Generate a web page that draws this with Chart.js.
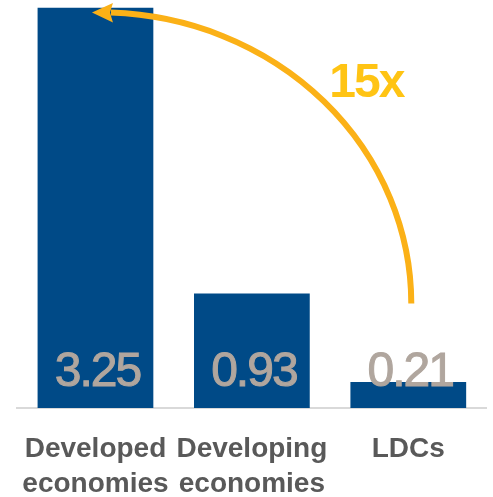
<!DOCTYPE html>
<html>
<head>
<meta charset="utf-8">
<script src="https://cdn.jsdelivr.net/npm/chart.js@4.4.1/dist/chart.umd.min.js"></script>
<style>
  html, body { margin: 0; padding: 0; background: #ffffff; }
  #wrap { width: 493px; height: 497px; position: relative; }
</style>
</head>
<body>
<div id="wrap"><canvas id="c" width="493" height="497"></canvas></div>
<script>
const categories = [['Developed', 'economies'], ['Developing', 'economies'], ['LDCs']];
const values = [3.25, 0.93, 0.21];
const valueLabels = ['3.25', '0.93', '0.21'];
const multipleLabel = '15x';

const FONT = '"Liberation Sans", Arial, Helvetica, sans-serif';

const valueLabelPlugin = {
  id: 'valueLabels',
  afterDatasetsDraw(chart) {
    const ctx = chart.ctx;
    const meta = chart.getDatasetMeta(0);
    const base = chart.scales.y.getPixelForValue(0);
    ctx.save();
    ctx.font = '48px ' + FONT;
    if ('letterSpacing' in ctx) ctx.letterSpacing = '-2px';
    ctx.fillStyle = '#b0a69e';
    ctx.textAlign = 'center';
    ctx.textBaseline = 'alphabetic';
    meta.data.forEach((bar, i) => {
      ctx.lineWidth = 1;
      ctx.strokeStyle = '#b0a69e';
      ctx.fillText(valueLabels[i], bar.x + 2, base - 22);
      ctx.strokeText(valueLabels[i], bar.x + 2, base - 22);
    });
    ctx.restore();
  }
};

const arrowPlugin = {
  id: 'arrow',
  afterDatasetsDraw(chart) {
    const ctx = chart.ctx;
    const xs = chart.scales.x, ys = chart.scales.y;
    const x0 = xs.getPixelForValue(0);
    const x2 = xs.getPixelForValue(2);
    const cx = x0 + 4.5;
    const cy = ys.getPixelForValue(0.847);
    const rx = (x2 + 3) - cx;
    const topY = ys.getPixelForValue(3.21);
    const ry = cy - topY;
    const tipX = x0 - 3.5;
    const headBack = tipX + 21;
    ctx.save();
    ctx.strokeStyle = '#fbb117';
    ctx.lineWidth = 6;
    ctx.beginPath();
    ctx.ellipse(cx, cy, rx, ry, 0, 0, -Math.PI / 2 + Math.asin((headBack - 2 - cx) / rx), true);
    ctx.stroke();
    ctx.fillStyle = '#fbb117';
    ctx.beginPath();
    ctx.moveTo(tipX, topY);
    ctx.lineTo(headBack, topY - 9.5);
    ctx.lineTo(headBack - 3, topY);
    ctx.lineTo(headBack, topY + 10);
    ctx.closePath();
    ctx.fill();

    ctx.font = 'bold 48px ' + FONT;
    if ('letterSpacing' in ctx) ctx.letterSpacing = '-2px';
    ctx.fillStyle = '#ffc414';
    ctx.textAlign = 'left';
    ctx.textBaseline = 'alphabetic';
    ctx.fillText(multipleLabel, x2 - 79, ys.getPixelForValue(2.52));
    ctx.restore();
  }
};

new Chart(document.getElementById('c'), {
  type: 'bar',
  data: {
    labels: categories,
    datasets: [{
      data: values,
      backgroundColor: '#004a87',
      borderWidth: 0,
      categoryPercentage: 1,
      barPercentage: 0.74
    }]
  },
  options: {
    responsive: false,
    animation: false,
    devicePixelRatio: 1,
    layout: { padding: { left: 17.25, right: 6.5, top: 7.5, bottom: 0 } },
    plugins: {
      legend: { display: false },
      tooltip: { enabled: false },
      title: { display: false }
    },
    scales: {
      x: {
        grid: { display: false, drawTicks: false },
        border: { display: true, color: '#d9d9d9', width: 2 },
        afterFit(scale) { scale.height = 89; scale.paddingLeft = 0; scale.paddingRight = 0; },
        ticks: {
          color: '#595959',
          padding: 24,
          maxRotation: 0,
          autoSkip: false,
          font: { family: FONT, size: 28, weight: 'bold', lineHeight: 1.25 }
        }
      },
      y: {
        display: false,
        min: 0,
        max: 3.25
      }
    }
  },
  plugins: [valueLabelPlugin, arrowPlugin]
});
</script>
</body>
</html>
